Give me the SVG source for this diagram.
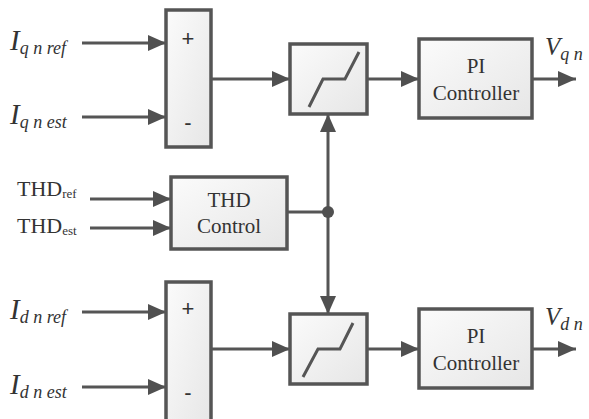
<svg xmlns="http://www.w3.org/2000/svg" width="589" height="419" viewBox="0 0 589 419">
<defs>
<linearGradient id="g" x1="0" y1="0" x2="1" y2="1">
<stop offset="0" stop-color="#fbfbfb"/>
<stop offset="1" stop-color="#e6e6e6"/>
</linearGradient>
<marker id="ah" viewBox="0 0 18 16" refX="18" refY="8" markerWidth="18" markerHeight="16" markerUnits="userSpaceOnUse" orient="auto">
<path d="M0,0 L18,8 L0,16 z" fill="#505050"/>
</marker>
<style>
.box{fill:url(#g);stroke:#555;stroke-width:3.5}
.ln{fill:none;stroke:#555;stroke-width:3}
.ar{fill:none;stroke:#555;stroke-width:3;marker-end:url(#ah)}
.dz{fill:none;stroke:#555;stroke-width:3}
</style>
</defs>
<rect width="589" height="419" fill="#ffffff"/>

<g id="connectors">
<line class="ar" x1="82" y1="43" x2="166" y2="43"/>
<line class="ar" x1="82" y1="117" x2="166" y2="117"/>
<line class="ar" x1="82" y1="312" x2="166" y2="312"/>
<line class="ar" x1="82" y1="387" x2="166" y2="387"/>
<line class="ar" x1="90" y1="199" x2="171" y2="199"/>
<line class="ar" x1="90" y1="228" x2="171" y2="228"/>
<line class="ar" x1="211" y1="79" x2="290" y2="79"/>
<line class="ar" x1="211" y1="349" x2="290" y2="349"/>
<line class="ar" x1="367" y1="79" x2="419" y2="79"/>
<line class="ar" x1="367" y1="349" x2="419" y2="349"/>
<line class="ar" x1="532" y1="79" x2="576" y2="79"/>
<line class="ar" x1="532" y1="349" x2="576" y2="349"/>
<line class="ln" x1="287" y1="212" x2="328" y2="212"/>
<line class="ar" x1="328" y1="212" x2="328" y2="114"/>
<line class="ar" x1="328" y1="212" x2="328" y2="314"/>
<circle cx="328" cy="212" r="6" fill="#505050"/>
</g>

<g id="sum-q" font-family="Liberation Sans, Arial, sans-serif" font-size="22" fill="#333" text-anchor="middle">
<rect class="box" x="166" y="10" width="45" height="137"/>
<text x="188" y="46">+</text>
<text x="188" y="130">-</text>
</g>

<g id="sum-d" font-family="Liberation Sans, Arial, sans-serif" font-size="22" fill="#333" text-anchor="middle">
<rect class="box" x="166" y="282" width="45" height="150"/>
<text x="188" y="316">+</text>
<text x="188" y="400">-</text>
</g>

<g id="thd-control" font-family="Liberation Serif, Times New Roman, serif" font-size="21" fill="#333" text-anchor="middle">
<rect class="box" x="171" y="177" width="116" height="72"/>
<text x="229" y="207">THD</text>
<text x="229" y="233">Control</text>
</g>

<g id="deadzone-q">
<rect class="box" x="290" y="44" width="77" height="70"/>
<polyline class="dz" points="309,107 323,79 345,79 359,52"/>
</g>

<g id="deadzone-d">
<rect class="box" x="290" y="314" width="77" height="70"/>
<polyline class="dz" points="303,377 318,349 340,349 353,323"/>
</g>

<g id="pi-q" font-family="Liberation Serif, Times New Roman, serif" font-size="21" fill="#333" text-anchor="middle">
<rect class="box" x="419" y="39" width="113" height="79"/>
<text x="476" y="73">PI</text>
<text x="476" y="100">Controller</text>
</g>

<g id="pi-d" font-family="Liberation Serif, Times New Roman, serif" font-size="21" fill="#333" text-anchor="middle">
<rect class="box" x="419" y="309" width="113" height="79"/>
<text x="476" y="343">PI</text>
<text x="476" y="370">Controller</text>
</g>

<g id="labels" font-family="Liberation Serif, Times New Roman, serif" fill="#333">
<text x="10" y="50" font-style="italic" font-size="29">I<tspan font-size="18" dy="4">q n ref</tspan></text>
<text x="10" y="124" font-style="italic" font-size="29">I<tspan font-size="18" dy="4">q n est</tspan></text>
<text x="10" y="319" font-style="italic" font-size="29">I<tspan font-size="18" dy="4">d n ref</tspan></text>
<text x="10" y="394" font-style="italic" font-size="29">I<tspan font-size="18" dy="4">d n est</tspan></text>
<text x="17" y="196" font-size="22">THD<tspan font-size="13" dy="2">ref</tspan></text>
<text x="17" y="233" font-size="22">THD<tspan font-size="13" dy="2">est</tspan></text>
<text x="545" y="55" font-style="italic" font-size="25">V<tspan font-size="18" dy="5">q n</tspan></text>
<text x="545" y="325" font-style="italic" font-size="25">V<tspan font-size="18" dy="5">d n</tspan></text>
</g>
</svg>
